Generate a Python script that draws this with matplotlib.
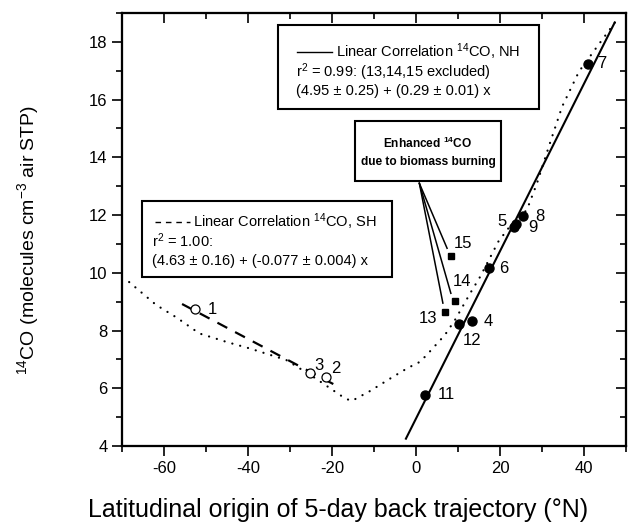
import matplotlib
matplotlib.use("Agg")
import matplotlib.pyplot as plt
from matplotlib.patches import Rectangle
from matplotlib.ticker import MultipleLocator
import numpy as np

plt.rcParams['font.family'] = ['Liberation Sans', 'DejaVu Sans']
plt.rcParams['mathtext.fontset'] = 'custom'
plt.rcParams['mathtext.rm'] = 'Liberation Sans'
plt.rcParams['mathtext.it'] = 'Liberation Sans:italic'
plt.rcParams['mathtext.bf'] = 'Liberation Sans:bold'
plt.rcParams['axes.unicode_minus'] = False

# ---- data ----
sh_ids = ["1", "3", "2"]
sh_lat = [-52.6, -25.3, -21.5]
sh_co = [8.74, 6.54, 6.40]

nh_ids = ["4", "5", "6", "7", "8", "9", "11", "12"]
nh_lat = [13.3, 23.3, 17.3, 40.9, 25.5, 23.9, 2.1, 10.3]
nh_co = [8.33, 11.60, 10.16, 17.24, 11.98, 11.68, 5.77, 8.23]

bb_ids = ["13", "14", "15"]
bb_lat = [6.9, 9.3, 8.3]
bb_co = [8.63, 9.02, 10.58]

# fit lines
nh_a, nh_b = 4.95, 0.29
nh_xrange = [-2.4, 47.3]
sh_a, sh_b = 4.63, -0.077
sh_xrange = [-55.7, -18.9]

# dotted model curve
curve_lat = [-68.3, -61.9, -57.0, -51.6, -45.0, -39.6, -30.9, -24.5, -16.9, -15.3,
             -11.0, -6.0, -2.0, 1.0, 2.9, 6.9, 9.3, 12.9, 15.3, 19.6, 22.3,
             26.4, 28.8, 32.0, 34.8, 38.8, 43.1, 47.5]
curve_co = [9.68, 8.89, 8.45, 7.90, 7.60, 7.38, 6.98, 6.40, 5.65, 5.56,
            5.90, 6.35, 6.70, 6.92, 7.21, 7.85, 8.37, 9.29, 9.87, 11.08, 11.60,
            12.18, 13.10, 14.54, 15.76, 16.97, 17.83, 18.70]

# label positions (data coords)
label_pos = {
    "1": (-48.4, 8.72), "3": (-23.2, 6.80), "2": (-19.0, 6.68),
    "15": (11.3, 11.00), "14": (10.9, 9.70), "13": (2.9, 8.42),
    "12": (13.3, 7.67), "4": (17.3, 8.31), "6": (20.8, 10.16),
    "5": (20.4, 11.77), "9": (27.8, 11.58), "8": (29.4, 11.95),
    "11": (7.3, 5.77), "7": (44.3, 17.26),
}

W, H = 628, 532
fig = plt.figure(figsize=(W / 100, H / 100), dpi=100)
ax = fig.add_axes([122 / W, 86 / H, 504 / W, 433 / H])

ax.set_xlim(-70, 50)
ax.set_ylim(4, 19)

# curve
ax.plot(curve_lat, curve_co, color='black', lw=1.6, linestyle=(0, (0.05, 3.6)),
        dash_capstyle='round', zorder=1)

# fit lines
xs = np.array(nh_xrange)
ax.plot(xs, nh_a + nh_b * xs, color='black', lw=1.5, zorder=2)
xs2 = np.array(sh_xrange)
ax.plot(xs2, sh_a + sh_b * xs2, color='black', lw=1.6, linestyle=(0, (5, 4)), zorder=2)

# points
ax.plot(sh_lat, sh_co, 'o', mfc='white', mec='black', ms=6.5, mew=0.9, zorder=3)
ax.plot(nh_lat, nh_co, 'o', color='black', ms=6.5, zorder=3)
ax.plot(bb_lat, bb_co, 's', color='black', ms=5, zorder=3)

for k, (x, y) in label_pos.items():
    ax.text(x, y, k, fontsize=12, ha='center', va='center', zorder=4)

# leader lines for biomass burning
origin = (0.8, 13.1)
ends = [(7.4, 10.85), (8.3, 9.29), (6.4, 8.95)]
for e in ends:
    ax.plot([origin[0], e[0]], [origin[1], e[1]], color='black', lw=1.1, zorder=2)

# axes styling
for s in ax.spines.values():
    s.set_linewidth(1.5)
ax.xaxis.set_major_locator(MultipleLocator(20))
ax.xaxis.set_minor_locator(MultipleLocator(10))
ax.yaxis.set_major_locator(MultipleLocator(2))
ax.yaxis.set_minor_locator(MultipleLocator(1))
ax.tick_params(which='both', direction='out', width=1.2, labelsize=12)
ax.tick_params(which='major', length=7)
ax.tick_params(which='minor', length=4)
ax.tick_params(axis='x', which='both', top=False)
ax.tick_params(axis='y', which='both', right=False)
axt = ax.twiny()
axt.set_xlim(ax.get_xlim())
axt.xaxis.set_major_locator(MultipleLocator(20))
axt.xaxis.set_minor_locator(MultipleLocator(10))
axt.tick_params(axis='x', which='both', direction='in', width=1.2, labeltop=False)
axt.tick_params(axis='x', which='major', length=7)
axt.tick_params(axis='x', which='minor', length=4)
axr = ax.twinx()
axr.set_ylim(ax.get_ylim())
axr.yaxis.set_major_locator(MultipleLocator(2))
axr.yaxis.set_minor_locator(MultipleLocator(1))
axr.tick_params(axis='y', which='both', direction='in', width=1.2, labelright=False)
axr.tick_params(axis='y', which='major', length=7)
axr.tick_params(axis='y', which='minor', length=4)
for a in (axt, axr):
    for s in a.spines.values():
        s.set_linewidth(1.5)


# ---- text boxes (pixel coords -> figure coords) ----
def fx(px):
    return px / W


def fy(py):
    return 1 - py / H


fig.text(fx(338), fy(510), "Latitudinal origin of 5-day back trajectory (\u00b0N)",
         fontsize=18, ha='center', va='center')
fig.text(fx(28), fy(240), "$^{14}$CO (molecules cm$^{-3}$ air STP)", fontsize=14,
         rotation=90, ha='center', va='center')


def box(x0, y0, x1, y1):
    r = Rectangle((fx(x0), fy(y1)), fx(x1) - fx(x0), fy(y0) - fy(y1),
                  transform=fig.transFigure, fill=True, facecolor='white',
                  edgecolor='black', lw=1.5, zorder=10)
    fig.add_artist(r)


# NH box
box(278, 25, 539, 109)
fig.add_artist(plt.Line2D([fx(297), fx(332)], [fy(52), fy(52)], color='black', lw=1.0,
                          transform=fig.transFigure, zorder=11))
fig.text(fx(336), fy(52), "Linear Correlation $^{14}$CO, NH", fontsize=10.5, va='center', zorder=11)
fig.text(fx(296), fy(72), "r$^2$ = 0.99: (13,14,15 excluded)", fontsize=10.5, va='center', zorder=11)
fig.text(fx(296), fy(91), "(4.95 \u00b1 0.25) + (0.29 \u00b1 0.01) x", fontsize=10.5, va='center', zorder=11)

# SH box
box(142, 201, 392, 277)
fig.add_artist(plt.Line2D([fx(155), fx(190)], [fy(222), fy(222)], color='black', lw=1.0,
                          linestyle=(0, (4, 3.5)), transform=fig.transFigure, zorder=11))
fig.text(fx(193), fy(222), "Linear Correlation $^{14}$CO, SH", fontsize=10.5, va='center', zorder=11)
fig.text(fx(152), fy(241), "r$^2$ = 1.00:", fontsize=10.5, va='center', zorder=11)
fig.text(fx(152), fy(261), "(4.63 \u00b1 0.16) + (-0.077 \u00b1 0.004) x", fontsize=10.5, va='center', zorder=11)

# biomass box
box(355, 121, 501, 181)
fig.text(fx(428), fy(143), "Enhanced $^{\\mathbf{14}}$CO", fontsize=8.6, fontweight='bold',
         ha='center', va='center', zorder=11)
fig.text(fx(428), fy(162), "due to biomass burning", fontsize=8.6, fontweight='bold',
         ha='center', va='center', zorder=11)

fig.savefig("out.png", dpi=100)
